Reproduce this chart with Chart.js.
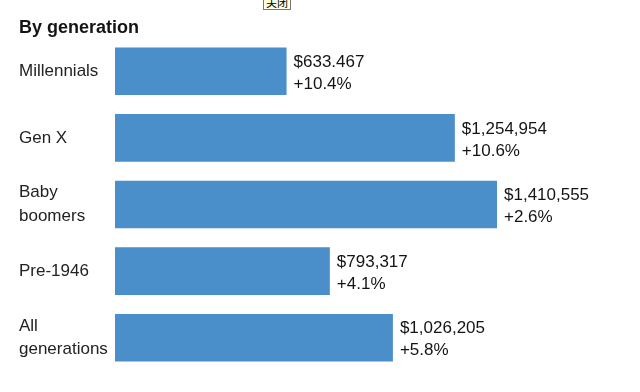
<!DOCTYPE html>
<html>
<head>
<meta charset="utf-8">
<script src="https://cdn.jsdelivr.net/npm/chart.js@4"></script>
<style>
  body { margin: 0; background: #fff; }
  #wrap { position: relative; width: 640px; height: 392px; }
  #tip { position: absolute; left: 263px; top: -5px; font: 11px "Noto Sans CJK SC", sans-serif; background: #ffffe1; border: 1px solid #777; padding: 0 2px; line-height: 13px; color: #000; }
</style>
</head>
<body>
<div id="wrap">
  <canvas id="chart"></canvas>
  <span id="tip">关闭</span>
</div>
<script>
// median net worth by generation
const generations = ['Millennials', 'Gen X', ['Baby', 'boomers'], 'Pre-1946', ['All', 'generations']];
const netWorth = [633467, 1254954, 1410555, 793317, 1026205];
const worthLabels = ['$633.467', '$1,254,954', '$1,410,555', '$793,317', '$1,026,205'];
const changeLabels = ['+10.4%', '+10.6%', '+2.6%', '+4.1%', '+5.8%'];

const FONT = '"Liberation Sans", Arial, sans-serif';

// two-line value labels at the end of each bar
const barLabels = {
  id: 'barLabels',
  afterDatasetsDraw(chart) {
    const ctx = chart.ctx;
    const meta = chart.getDatasetMeta(0);
    ctx.save();
    ctx.font = '17px ' + FONT;
    ctx.fillStyle = '#141414';
    ctx.textAlign = 'left';
    ctx.textBaseline = 'middle';
    meta.data.forEach((bar, i) => {
      ctx.fillText(worthLabels[i], bar.x + 7, bar.y - 9);
      ctx.fillText(changeLabels[i], bar.x + 7, bar.y + 13);
    });
    ctx.restore();
  }
};

new Chart(document.getElementById('chart'), {
  type: 'bar',
  data: {
    labels: generations,
    datasets: [{
      data: netWorth,
      backgroundColor: '#4a8eca',
      borderWidth: 0,
      categoryPercentage: 1,
      barPercentage: 0.715
    }]
  },
  options: {
    indexAxis: 'y',
    responsive: true,
    maintainAspectRatio: false,
    animation: false,
    layout: { padding: { left: 19, right: 24, top: 0, bottom: 21 } },
    plugins: {
      legend: { display: false },
      tooltip: { enabled: false },
      title: {
        display: true,
        text: 'By generation',
        align: 'start',
        color: '#141414',
        font: { family: FONT, size: 18, weight: 'bold', lineHeight: 1 },
        padding: { top: 19, bottom: 1 }
      }
    },
    scales: {
      x: { display: false, min: 0, max: 1850000 },
      y: {
        grid: { display: false },
        border: { display: false },
        ticks: {
          crossAlign: 'far',
          padding: 0,
          color: '#222',
          font: { family: FONT, size: 17, lineHeight: 1.38 }
        },
        afterFit(scale) { scale.width = 96; }
      }
    }
  },
  plugins: [barLabels]
});
</script>
</body>
</html>
